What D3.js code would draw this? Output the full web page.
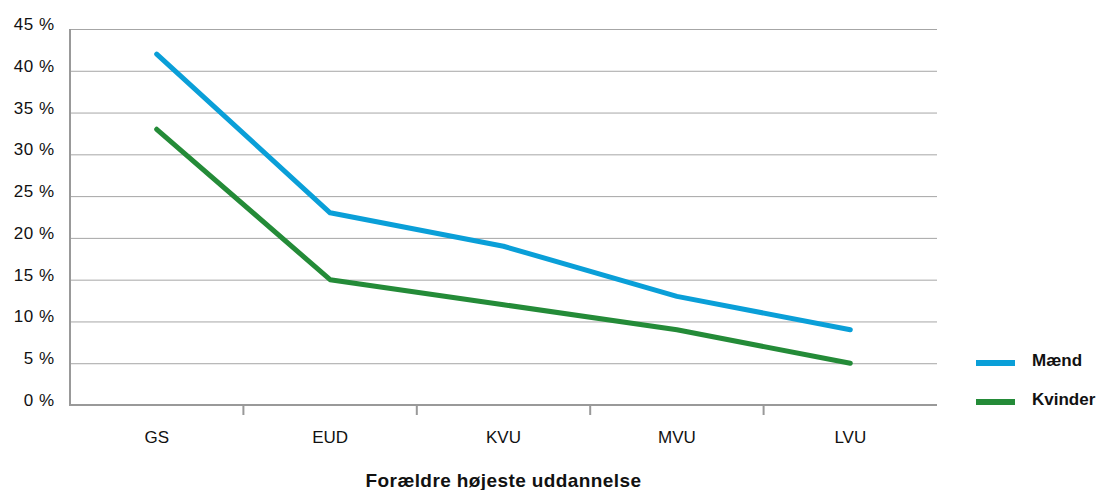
<!DOCTYPE html>
<html>
<head>
<meta charset="utf-8">
<script src="https://cdn.jsdelivr.net/npm/d3@7"></script>
<style>
  body { margin: 0; background: #fff; }
  text { font-family: "Liberation Sans", Arial, Helvetica, sans-serif; fill: #111; }
</style>
</head>
<body>
<div id="chart"></div>
<script>
(function () {
    'use strict';

    var categories = ['GS', 'EUD', 'KVU', 'MVU', 'LVU'];
    var maend = [42, 23, 19, 13, 9];
    var kvinder = [33, 15, 12, 9, 5];
    var yTicks = [0, 5, 10, 15, 20, 25, 30, 35, 40, 45];
    var seriesNames = ['Mænd', 'Kvinder'];
    var xTitle = 'Forældre højeste uddannelse';

    var colors = ['#0a9fd8', '#248b38'];

    var width = 1099, height = 490,
        left = 70, right = 937, top = 29, bottom = 405;

    var svg = d3.select('#chart')
        .append('svg')
        .attr('width', width)
        .attr('height', height);

    var x = d3.scaleBand().domain(categories).range([left, right]);
    var y = d3.scaleLinear().domain([0, 45]).range([bottom, top]);

    // grid lines
    svg.append('g')
        .selectAll('line')
        .data(yTicks.filter(function (d) { return d > 0; }))
        .enter()
        .append('line')
        .attr('x1', left)
        .attr('x2', right)
        .attr('y1', function (d) { return y(d) + 0.5; })
        .attr('y2', function (d) { return y(d) + 0.5; })
        .attr('stroke', '#a6a6a6')
        .attr('stroke-width', 1);

    // y labels
    svg.append('g')
        .selectAll('text')
        .data(yTicks)
        .enter()
        .append('text')
        .attr('x', 54.5)
        .attr('y', function (d) { return y(d) - 5; })
        .attr('dy', '0.35em')
        .attr('text-anchor', 'end')
        .style('font-size', '17px')
        .style('letter-spacing', '0.5px')
        .text(function (d) { return d + ' %'; });

    // x axis with ticks between categories
    var xAxis = d3.axisBottom(x).tickSize(0).tickPadding(26);
    var gx = svg.append('g')
        .attr('transform', 'translate(0,' + bottom + ')')
        .call(xAxis);
    gx.select('.domain').remove();
    gx.selectAll('text')
        .style('font-size', '17px')
        .style('font-family', '"Liberation Sans", Arial, sans-serif')
        .attr('fill', '#111');

    svg.append('g')
        .selectAll('line')
        .data(categories.slice(1))
        .enter()
        .append('line')
        .attr('x1', function (d) { return x(d); })
        .attr('x2', function (d) { return x(d); })
        .attr('y1', bottom)
        .attr('y2', bottom + 10)
        .attr('stroke', '#999')
        .attr('stroke-width', 2);

    // axis lines
    svg.append('path')
        .attr('d', 'M' + left + ',' + top + 'V' + bottom + 'H' + right)
        .attr('fill', 'none')
        .attr('stroke', '#999')
        .attr('stroke-width', 2);

    // lines
    var line = d3.line()
        .x(function (d, i) { return x(categories[i]) + x.bandwidth() / 2; })
        .y(function (d) { return y(d); });

    [maend, kvinder].forEach(function (s, i) {
        svg.append('path')
            .datum(s)
            .attr('d', line)
            .attr('fill', 'none')
            .attr('stroke', colors[i])
            .attr('stroke-width', 5)
            .attr('stroke-linecap', 'round')
            .attr('stroke-linejoin', 'round');
    });

    // legend
    var legend = svg.append('g')
        .selectAll('g')
        .data(seriesNames)
        .enter()
        .append('g')
        .attr('transform', function (d, i) { return 'translate(976,' + (363 + i * 39) + ')'; });

    legend.append('line')
        .attr('x1', 0)
        .attr('x2', 39)
        .attr('stroke', function (d, i) { return colors[i]; })
        .attr('stroke-width', 6);

    legend.append('text')
        .attr('x', 56)
        .attr('y', -3)
        .attr('dy', '0.35em')
        .style('font-size', '17px')
        .style('font-weight', 'bold')
        .text(function (d) { return d; });

    // x title
    svg.append('text')
        .attr('x', (left + right) / 2)
        .attr('y', 480.5)
        .attr('dy', '0.35em')
        .attr('text-anchor', 'middle')
        .style('font-size', '19px')
        .style('font-weight', 'bold')
        .style('letter-spacing', '0.4px')
        .text(xTitle);
})();
</script>
</body>
</html>
